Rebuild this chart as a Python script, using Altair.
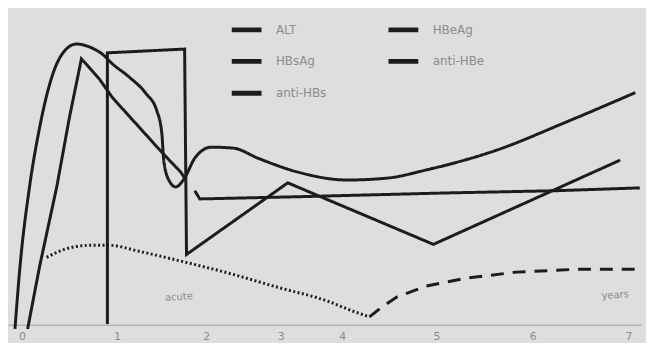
import altair as alt
import pandas as pd

# ---- data (x: time units 0-100, y: level 0-100) ----
alt_x = [1.1, 1.9, 3.4, 5.0, 7.1, 9.2, 10.8, 13.3, 14.9, 16.5, 19.1, 21.8, 23.5, 24.3, 24.6, 25.4,
         26.5, 27.7, 29.6, 32.1, 35.6, 39.5, 45.8, 53.6, 59.9, 66.1, 77.1, 88.1, 99.1]
alt_y = [-1.3, 18.6, 43.7, 62.6, 79.6, 87.4, 89.0, 87.7, 85.8, 82.7, 78.6, 73.3, 67.9, 60.7, 52.2, 45.9,
         43.7, 45.9, 53.1, 56.3, 56.0, 52.8, 48.4, 45.9, 46.5, 49.1, 55.3, 64.2, 73.6]

hbsag_x = [3.1, 5.0, 7.7, 9.7, 11.6, 14.4, 16.5, 24.3, 25.9, 27.3, 27.9]
hbsag_y = [-1.3, 18.6, 43.7, 65.7, 84.3, 78.0, 72.0, 54.7, 51.3, 48.4, 46.5]

hbeag_x = [15.7, 15.7, 27.9, 28.2, 44.2, 67.2, 96.7]
hbeag_y = [0.3, 86.2, 87.4, 22.3, 45.0, 25.5, 52.2]

antihbe_x = [29.5, 30.3, 45.8, 69.3, 86.5, 99.8]
antihbe_y = [42.5, 39.9, 40.6, 41.8, 42.5, 43.4]

antihbs_dot_x = [6.1, 8.9, 12.9, 16.0, 20.7, 28.1, 34.8, 42.6, 50.5, 54.4, 57.1]
antihbs_dot_y = [21.4, 23.9, 25.2, 25.2, 23.3, 19.8, 16.4, 11.9, 7.5, 4.4, 2.5]
antihbs_dash_x = [57.1, 59.1, 61.4, 66.1, 72.4, 80.3, 89.7, 99.8]
antihbs_dash_y = [2.5, 5.7, 8.8, 12.3, 14.8, 16.7, 17.6, 17.6]

tick_pos = [2.2, 17.2, 31.3, 43.1, 52.8, 67.7, 82.9, 98.0]
tick_labels = ["0", "1", "2", "3", "4", "5", "6", "7"]

note_text = ["acute", "years"]
note_x = [27.0, 95.9]
note_y = [8.8, 9.4]

legend_order = ["ALT", "HBsAg", "anti-HBs", "HBeAg", "anti-HBe"]

# ---- build table ----
def part(series, partname, xs, ys):
    return pd.DataFrame({"series": series, "part": partname, "x": xs, "y": ys, "i": range(len(xs))})

df_smooth = pd.concat([
    part("ALT", "ALT", alt_x, alt_y),
    part("anti-HBs", "anti-HBs dotted", antihbs_dot_x, antihbs_dot_y),
])
df_lin = pd.concat([
    part("HBsAg", "HBsAg", hbsag_x, hbsag_y),
    part("HBeAg", "HBeAg", hbeag_x, hbeag_y),
    part("anti-HBe", "anti-HBe", antihbe_x, antihbe_y),
    part("anti-HBs", "anti-HBs dashed", antihbs_dash_x, antihbs_dash_y),
])

parts = ["ALT", "HBsAg", "HBeAg", "anti-HBe", "anti-HBs dotted", "anti-HBs dashed"]
widths = [3, 3, 4.5, 4, 3, 4.5]
dashes = [[1, 0], [1, 0], [1, 0], [1, 0], [2, 2.5], [13, 9]]

ink = "#1c1c1c"
xs = alt.Scale(domain=[0, 100], nice=False, zero=False)
ys = alt.Scale(domain=[0, 100], nice=False, zero=False)

label_expr = "[" + ",".join("'%s'" % t for t in tick_labels) + "][indexof([" + \
    ",".join(str(p) for p in tick_pos) + "], datum.value)]"

xenc = alt.X("x:Q", scale=xs, axis=alt.Axis(values=tick_pos, labelExpr=label_expr, title=None,
                                          grid=False, ticks=False, domainColor="#b4b4b4",
                                          domainWidth=1.5, labelColor="#8a8a8a", labelFontSize=11,
                                          labelPadding=6))
yenc = alt.Y("y:Q", scale=ys, axis=None)

color = alt.Color("series:N", sort=legend_order,
                  scale=alt.Scale(domain=legend_order, range=[ink] * 5),
                  legend=alt.Legend(title=None, orient="none", legendX=223, legendY=3, columns=2,
                                    symbolType="stroke", symbolSize=900, symbolStrokeWidth=5,
                                    symbolDash=[1, 0], labelFontSize=12, labelColor="#8c8c8c",
                                    labelOffset=12, rowPadding=4, columnPadding=52,
                                    symbolStrokeColor=ink))
sw = alt.StrokeWidth("part:N", scale=alt.Scale(domain=parts, range=widths), legend=None)
sd = alt.StrokeDash("part:N", scale=alt.Scale(domain=parts, range=dashes), legend=None)

smooth = alt.Chart(df_smooth).mark_line(interpolate="monotone", strokeCap="butt").encode(
    x=xenc, y=yenc, color=color, strokeWidth=sw, strokeDash=sd, detail="part:N", order="i:Q")
lin = alt.Chart(df_lin).mark_line(strokeJoin="miter", strokeCap="butt").encode(
    x=xenc, y=yenc, color=color, strokeWidth=sw, strokeDash=sd, detail="part:N", order="i:Q")

notes = alt.Chart(pd.DataFrame({"t": note_text, "x": note_x, "y": note_y})).mark_text(
    fontSize=10, color="#8a8a8a", angle=356).encode(x=alt.X("x:Q", scale=xs), y=alt.Y("y:Q", scale=ys), text="t:N")

chart = (smooth + lin + notes).properties(width=638, height=318, background="#dedede",
                                          padding=0).configure_view(
    stroke=None).configure(font="DejaVu Sans")

chart.save("out.html", embed_options={"renderer": "svg", "actions": False})
